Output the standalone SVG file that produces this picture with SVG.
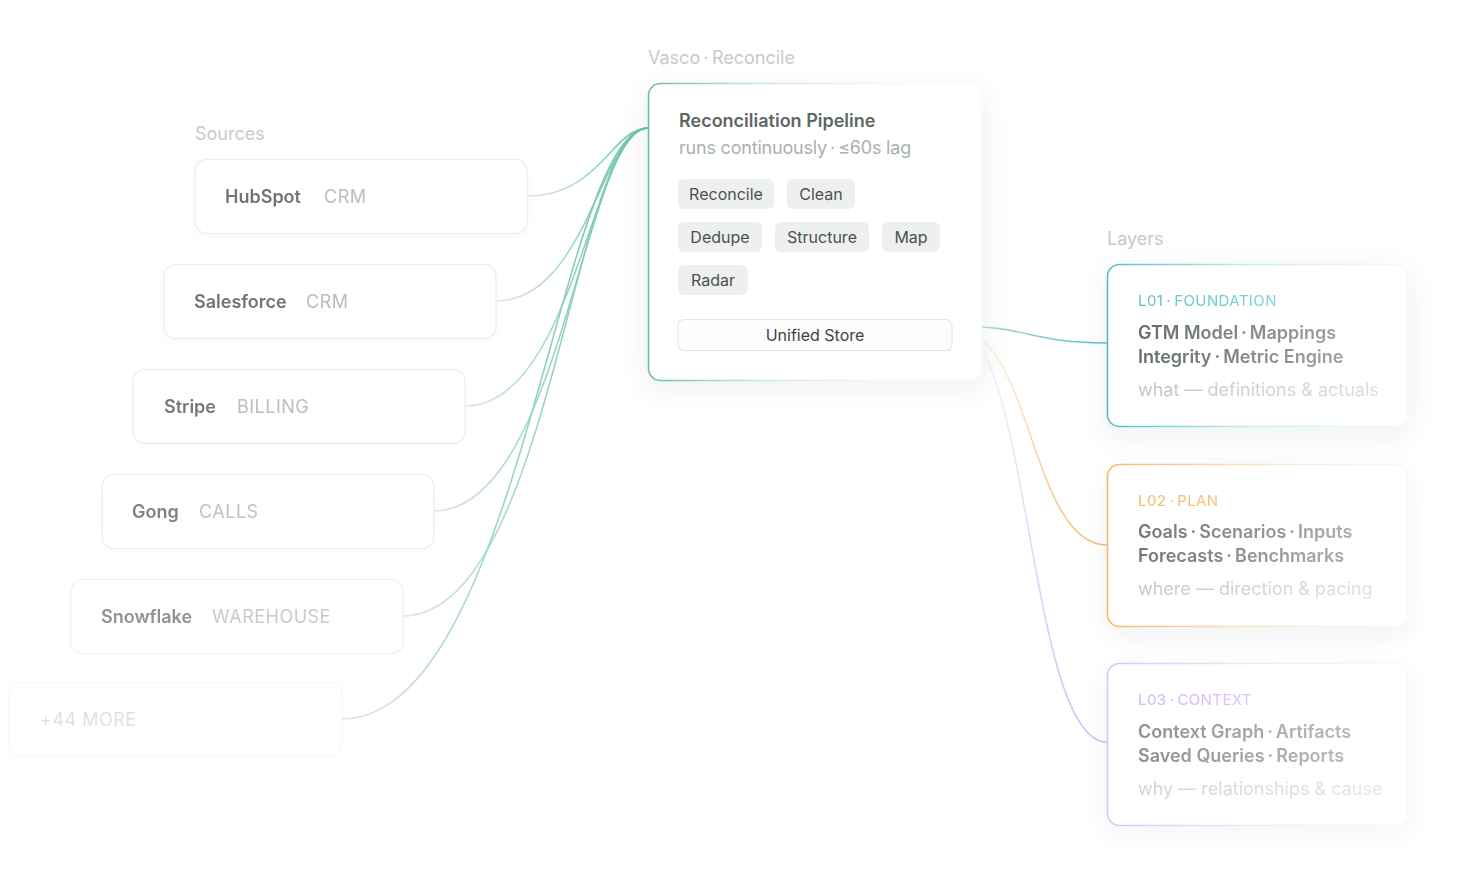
<svg xmlns="http://www.w3.org/2000/svg" width="1458" height="880" viewBox="0 0 1458 880">
<defs>
  <style>
    text{font-family:Inter,"Noto Sans","Liberation Sans",sans-serif;}
    .head{font-size:18px;fill:#c6cacc;}
    .src-card{fill:#ffffff;stroke:#ebeced;stroke-width:1.2;}
    .src-name{font-size:18px;font-weight:600;fill:#6f7474;}
    .src-type{font-size:18px;fill:#b8bcc1;letter-spacing:0.5px;}
    .chip{fill:#eef0ef;}
    .chip-t{font-size:16px;fill:#4b5050;}
    .ptitle{font-size:18px;font-weight:600;fill:#5d6764;}
    .psub{font-size:18px;fill:#a9b1ae;letter-spacing:-0.2px;}
    .store{fill:#fcfdfc;stroke:#e4e7e6;stroke-width:1.2;}
    .store-t{font-size:16px;fill:#3f4444;}
    .lcard{fill:#ffffff;}
    .llabel{font-size:15px;letter-spacing:0.4px;}
    .lline{font-size:18px;font-weight:600;fill:#646c6f;}
    .ldesc{font-size:18px;fill:#c1c6c9;}
    .conn{fill:none;stroke-width:1.6;}
  </style>
  <filter id="shadow" x="-20%" y="-20%" width="140%" height="150%">
    <feDropShadow dx="0" dy="8" stdDeviation="14" flood-color="#1f3a33" flood-opacity="0.07"/>
  </filter>
  <filter id="shadow2" x="-10%" y="-20%" width="120%" height="150%">
    <feDropShadow dx="0" dy="2" stdDeviation="4" flood-color="#000" flood-opacity="0.025"/>
  </filter>
  <linearGradient id="gSrc" x1="0" y1="0" x2="1" y2="0">
    <stop offset="0" stop-color="#e2e6e4"/>
    <stop offset="0.5" stop-color="#9fd9c0"/>
    <stop offset="1" stop-color="#66c59e"/>
  </linearGradient>
  <linearGradient id="gPipe" x1="648" y1="0" x2="982" y2="0" gradientUnits="userSpaceOnUse">
    <stop offset="0" stop-color="#62c29a"/>
    <stop offset="0.35" stop-color="#cdeadd"/>
    <stop offset="0.7" stop-color="#f4f6f5"/>
    <stop offset="1" stop-color="#f8f9f9"/>
  </linearGradient>
  <linearGradient id="gL1" x1="0" y1="0" x2="1" y2="0">
    <stop offset="0" stop-color="#56bec3"/>
    <stop offset="0.5" stop-color="#cdeef0"/>
    <stop offset="1" stop-color="#f6f8f8"/>
  </linearGradient>
  <linearGradient id="gL2" x1="0" y1="0" x2="1" y2="0">
    <stop offset="0" stop-color="#f6b45e"/>
    <stop offset="0.5" stop-color="#fbe3c4"/>
    <stop offset="1" stop-color="#f8f8f8"/>
  </linearGradient>
  <linearGradient id="gL3" x1="0" y1="0" x2="1" y2="0">
    <stop offset="0" stop-color="#cdb0f5"/>
    <stop offset="0.5" stop-color="#ece2fb"/>
    <stop offset="1" stop-color="#f9f9f9"/>
  </linearGradient>
  <linearGradient id="cL1" x1="0" y1="0" x2="1" y2="0">
    <stop offset="0" stop-color="#dfe9e8"/>
    <stop offset="0.35" stop-color="#93d4d6"/>
    <stop offset="1" stop-color="#5bbfc3"/>
  </linearGradient>
  <linearGradient id="cL2" x1="0" y1="0" x2="0" y2="1">
    <stop offset="0" stop-color="#fdf5ec"/>
    <stop offset="1" stop-color="#f7bf7c"/>
  </linearGradient>
  <linearGradient id="cL3" x1="0" y1="0" x2="0" y2="1">
    <stop offset="0" stop-color="#f8f5fd"/>
    <stop offset="1" stop-color="#d2bdf5"/>
  </linearGradient>
  <linearGradient id="fade" x1="0" y1="0" x2="1" y2="0">
    <stop offset="0" stop-color="#fff" stop-opacity="1"/>
    <stop offset="1" stop-color="#fff" stop-opacity="0.55"/>
  </linearGradient>
  <mask id="mFade" maskContentUnits="objectBoundingBox">
    <rect x="0" y="0" width="1" height="1" fill="url(#fade)"/>
  </mask>
</defs>

<rect x="0" y="0" width="1458" height="880" fill="#ffffff"/>

<!-- headings -->
<text class="head" x="195" y="140">Sources</text>
<text class="head" x="648" y="64">Vasco&#8201;·&#8201;Reconcile</text>
<text class="head" x="1107" y="245">Layers</text>

<!-- connectors -->
<g id="connectors">
  <path class="conn" stroke="url(#gSrc)" d="M527,196 C600,196 612,128 648,128"/>
  <path class="conn" stroke="url(#gSrc)" d="M496,301 C587,301 602,128 648,128"/>
  <path class="conn" stroke="url(#gSrc)" d="M465,406 C575,406 593,128 648,128"/>
  <path class="conn" stroke="url(#gSrc)" d="M434,511 C562,511 584,128 648,128"/>
  <path class="conn" stroke="url(#gSrc)" d="M403,616 C550,616 574,128 648,128"/>
  <path class="conn" stroke="url(#gSrc)" d="M342,719 C520,719 560,128 648,128"/>
  <path class="conn" stroke="url(#cL1)" d="M954,326 C1030,326 1030,343 1107,343"/>
  <path class="conn" stroke="url(#cL2)" d="M956,330 C1032,330 1030,545 1107,545"/>
  <path class="conn" stroke="url(#cL3)" d="M956,330 C1030,330 1028,742 1107,742"/>
</g>

<!-- sources -->
<g id="src-hubspot" filter="url(#shadow2)">
  <rect class="src-card" x="195" y="159.5" width="332" height="74" rx="12"/>
  <text class="src-name" x="225" y="203">HubSpot</text>
  <text class="src-type" x="324" y="203">CRM</text>
</g>
<g id="src-salesforce" filter="url(#shadow2)">
  <rect class="src-card" x="164" y="264.5" width="332" height="74" rx="12"/>
  <text class="src-name" x="194" y="308">Salesforce</text>
  <text class="src-type" x="306" y="308">CRM</text>
</g>
<g id="src-stripe" filter="url(#shadow2)" opacity="0.97">
  <rect class="src-card" x="133" y="369.5" width="332" height="74" rx="12"/>
  <text class="src-name" x="164" y="413">Stripe</text>
  <text class="src-type" x="237" y="413">BILLING</text>
</g>
<g id="src-gong" filter="url(#shadow2)" opacity="0.9">
  <rect class="src-card" x="102" y="474.5" width="332" height="74" rx="12"/>
  <text class="src-name" x="132" y="518">Gong</text>
  <text class="src-type" x="199" y="518">CALLS</text>
</g>
<g id="src-snowflake" filter="url(#shadow2)" opacity="0.78">
  <rect class="src-card" x="71" y="579.5" width="332" height="74" rx="12"/>
  <text class="src-name" x="101" y="623">Snowflake</text>
  <text class="src-type" x="212" y="623">WAREHOUSE</text>
</g>
<g id="src-more" opacity="0.45">
  <rect class="src-card" x="9" y="682.5" width="333" height="74" rx="12"/>
  <text class="src-type" x="40" y="726" fill="#c9cdd0">+44 MORE</text>
</g>

<!-- pipeline -->
<g id="pipeline">
  <rect x="648.5" y="83.5" width="333" height="297" rx="12" fill="#ffffff" stroke="url(#gPipe)" stroke-width="1.6" filter="url(#shadow)"/>
  <text class="ptitle" x="679" y="127">Reconciliation Pipeline</text>
  <text class="psub" x="679" y="154">runs continuously&#8201;·&#8201;≤60s lag</text>
  <rect class="chip" x="678" y="179" width="96" height="30" rx="6"/>
  <text class="chip-t" x="726" y="200" text-anchor="middle">Reconcile</text>
  <rect class="chip" x="787" y="179" width="68" height="30" rx="6"/>
  <text class="chip-t" x="821" y="200" text-anchor="middle">Clean</text>
  <rect class="chip" x="678" y="222" width="84" height="30" rx="6"/>
  <text class="chip-t" x="720" y="243" text-anchor="middle">Dedupe</text>
  <rect class="chip" x="775" y="222" width="94" height="30" rx="6"/>
  <text class="chip-t" x="822" y="243" text-anchor="middle">Structure</text>
  <rect class="chip" x="882" y="222" width="58" height="30" rx="6"/>
  <text class="chip-t" x="911" y="243" text-anchor="middle">Map</text>
  <rect class="chip" x="678" y="265" width="70" height="30" rx="6"/>
  <text class="chip-t" x="713" y="286" text-anchor="middle">Radar</text>
  <rect class="store" x="678" y="319.5" width="274" height="31" rx="6"/>
  <text class="store-t" x="815" y="341" text-anchor="middle">Unified Store</text>
</g>

<!-- layers -->
<g id="layer-l01">
  <rect class="lcard" x="1107.5" y="264.5" width="300" height="162" rx="12" stroke="url(#gL1)" stroke-width="1.6" filter="url(#shadow)"/>
  <g mask="url(#mFade)">
    <text class="llabel" x="1138" y="306" fill="#5ec3c6">L01&#8201;·&#8201;FOUNDATION</text>
    <text class="lline" x="1138" y="339">GTM Model&#8201;·&#8201;Mappings</text>
    <text class="lline" x="1138" y="363">Integrity&#8201;·&#8201;Metric Engine</text>
    <text class="ldesc" x="1138" y="396">what — definitions &amp; actuals</text>
  </g>
</g>
<g id="layer-l02" opacity="0.92">
  <rect class="lcard" x="1107.5" y="464.5" width="300" height="162" rx="12" stroke="url(#gL2)" stroke-width="1.6" filter="url(#shadow)"/>
  <g mask="url(#mFade)">
    <text class="llabel" x="1138" y="506" fill="#f6b460">L02&#8201;·&#8201;PLAN</text>
    <text class="lline" x="1138" y="538">Goals&#8201;·&#8201;Scenarios&#8201;·&#8201;Inputs</text>
    <text class="lline" x="1138" y="562">Forecasts&#8201;·&#8201;Benchmarks</text>
    <text class="ldesc" x="1138" y="595">where — direction &amp; pacing</text>
  </g>
</g>
<g id="layer-l03" opacity="0.75">
  <rect class="lcard" x="1107.5" y="663.5" width="300" height="162" rx="12" stroke="url(#gL3)" stroke-width="1.6" filter="url(#shadow)"/>
  <g mask="url(#mFade)">
    <text class="llabel" x="1138" y="705" fill="#c19ef2">L03&#8201;·&#8201;CONTEXT</text>
    <text class="lline" x="1138" y="738" fill="#8a8f92">Context Graph&#8201;·&#8201;Artifacts</text>
    <text class="lline" x="1138" y="762" fill="#8a8f92">Saved Queries&#8201;·&#8201;Reports</text>
    <text class="ldesc" x="1138" y="795" fill="#dadddf">why — relationships &amp; cause</text>
  </g>
</g>
</svg>
